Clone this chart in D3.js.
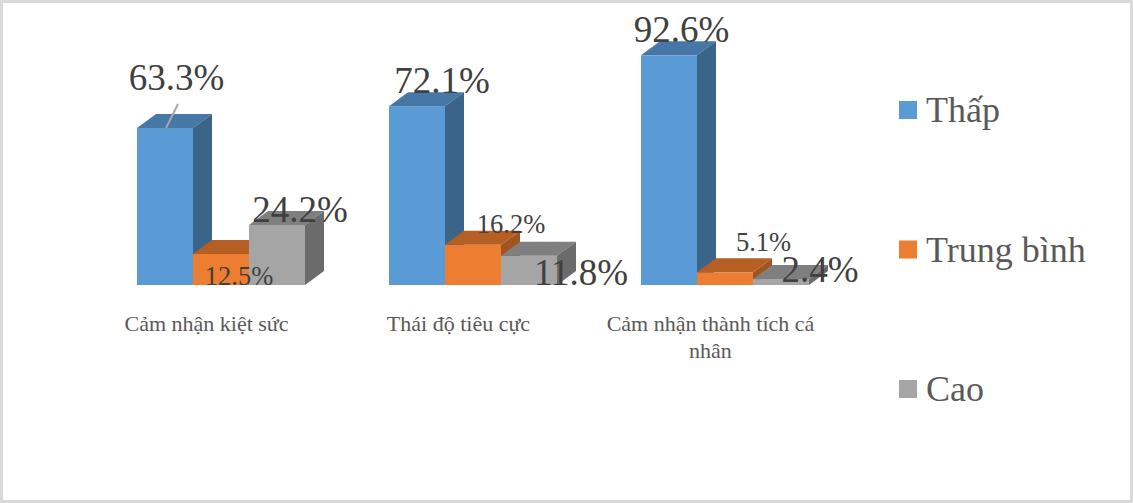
<!DOCTYPE html>
<html>
<head>
<meta charset="utf-8">
<script src="https://cdn.jsdelivr.net/npm/d3@7/dist/d3.min.js"></script>
<style>
  html, body { margin: 0; padding: 0; background: #fff; }
  svg { display: block; }
</style>
</head>
<body>
<svg id="chart" width="1133" height="503"></svg>
<script>
// ---- data ----
const categories = ["Cảm nhận kiệt sức", "Thái độ tiêu cực", "Cảm nhận thành tích cá nhân"];
const series = ["Thấp", "Trung bình", "Cao"];
const thap = [63.3, 72.1, 92.6];
const trungBinh = [12.5, 16.2, 5.1];
const cao = [24.2, 11.8, 2.4];
const categoryLines = [["Cảm nhận kiệt sức"], ["Thái độ tiêu cực"], ["Cảm nhận thành tích cá", "nhân"]];

// ---- layout / style ----
const W = 1133, H = 503;
const colors = {
  front: ["#5b9bd5", "#ed7d31", "#a5a5a5"],
  top:   ["#4677a6", "#b55f24", "#7f7f7f"],
  side:  ["#3a6488", "#a3541c", "#6b6b6b"]
};
const barW = 56, depthX = 19, depthY = 14;
// label offsets relative to the top-back centre of each bar [series][category]
const labelOffsets = [
  [[2, -24], [15.5, 1], [3, 1]],
  [[8.5, 45], [28.5, 2], [29, -7]],
  [[13.5, 11], [42.5, 43], [29.5, 17]]
];
const labelSizes = [37, 26.5, 37];

const values = [thap, trungBinh, cao];
const svg = d3.select("#chart");

const x = d3.scaleBand().domain(categories).range([80.5, 836.5]).paddingInner(0).paddingOuter(0);
const y = d3.scaleLinear().domain([0, 100]).range([285, 37]);

// border
svg.append("rect").attr("x", 1.5).attr("y", 1.5).attr("width", W - 3).attr("height", H - 3)
  .attr("fill", "#fff").attr("stroke", "#d9d9d9").attr("stroke-width", 3);

const gBars = svg.append("g");
categories.forEach((c, ci) => {
  const center = x(c) + x.bandwidth() / 2;
  const start = center - 69.5;
  series.forEach((s, si) => {
    const v = values[si][ci];
    const x0 = start + si * barW, x1 = x0 + barW;
    const y0 = y(0), yt = y(v);
    const g = gBars.append("g");
    g.append("rect").attr("x", x0).attr("y", yt).attr("width", barW).attr("height", y0 - yt)
      .attr("fill", colors.front[si]);
    g.append("path").attr("d", `M${x0},${yt}L${x1},${yt}L${x1 + depthX},${yt - depthY}L${x0 + depthX},${yt - depthY}Z`)
      .attr("fill", colors.top[si]);
    g.append("path").attr("d", `M${x1},${yt}L${x1 + depthX},${yt - depthY}L${x1 + depthX},${y0 - depthY}L${x1},${y0}Z`)
      .attr("fill", colors.side[si]);
  });
});

// data labels
categories.forEach((c, ci) => {
  const center = x(c) + x.bandwidth() / 2;
  const start = center - 69.5;
  series.forEach((s, si) => {
    const v = values[si][ci];
    const bx = start + si * barW + barW / 2;
    const ax = bx + depthX / 2;
    const ay = y(v) - depthY;
    const [dx, dy] = labelOffsets[si][ci];
    const lx = ax + dx, ly = ay + dy;
    if (si === 0 && ci === 0) {
      svg.append("line").attr("x1", lx + 1.5).attr("y1", ly + 14).attr("x2", bx + 1).attr("y2", y(v))
        .attr("stroke", "#a6a6a6").attr("stroke-width", 2);
    }
    svg.append("text").attr("x", lx).attr("y", ly)
      .attr("text-anchor", "middle")
      .attr("font-family", "'Liberation Serif', 'Times New Roman', serif")
      .attr("font-size", labelSizes[si])
      .attr("fill", "#404040")
      .text(v.toFixed(1) + "%");
  });
});

// category labels
categories.forEach((c, ci) => {
  const center = x(c) + x.bandwidth() / 2;
  const t = svg.append("text").attr("text-anchor", "middle")
    .attr("font-family", "'Liberation Serif', 'Times New Roman', serif")
    .attr("font-size", 22).attr("fill", "#595959");
  categoryLines[ci].forEach((line, li) => {
    t.append("tspan").attr("x", center).attr("y", 331 + li * 27).text(line);
  });
});

// legend
const legendY = d3.scalePoint().domain(series).range([110, 389]);
series.forEach((s, si) => {
  const cy = legendY(s);
  svg.append("rect").attr("x", 899).attr("y", cy - 9).attr("width", 18).attr("height", 18)
    .attr("fill", colors.front[si]);
  svg.append("text").attr("x", 926).attr("y", cy + 12)
    .attr("font-family", "'Liberation Serif', 'Times New Roman', serif")
    .attr("font-size", 36).attr("fill", "#595959").text(s);
});
</script>
</body>
</html>
